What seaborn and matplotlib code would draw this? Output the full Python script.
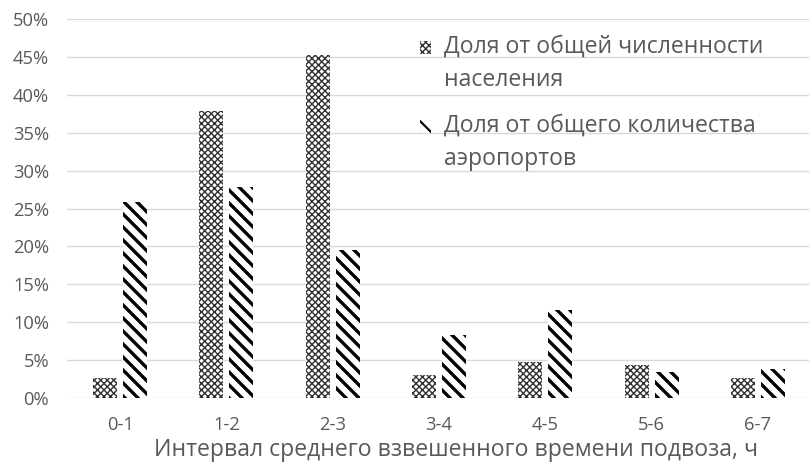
import numpy as np
import pandas as pd
import seaborn as sns
import matplotlib.pyplot as plt
from matplotlib.patches import Patch

# values, in %
intervals = ['0-1', '1-2', '2-3', '3-4', '4-5', '5-6', '6-7']
population_share = [2.6, 37.8, 45.3, 3.1, 4.8, 4.4, 2.7]
airports_share = [25.9, 27.8, 19.5, 8.3, 11.6, 3.4, 3.8]
series_names = ['Доля от общей численности\nнаселения',
                'Доля от общего количества\nаэропортов']
y_ticks = list(range(0, 51, 5))
x_title = 'Интервал среднего взвешенного времени подвоза, ч'

df = pd.DataFrame({
    'interval': intervals * 2,
    'share': population_share + airports_share,
    'series': [series_names[0]] * len(intervals) + [series_names[1]] * len(intervals),
})

sns.set_theme(style='white')
plt.rcParams['font.family'] = ['Open Sans', 'DejaVu Sans']
plt.rcParams['hatch.linewidth'] = 3.0

TXT = '#595959'
DPI = 78
W, H = 809, 470
fig = plt.figure(figsize=(W / DPI, H / DPI), dpi=DPI)
ax = fig.add_axes([67 / W, 1 - 398 / H, 744 / W, 379 / H])

sns.barplot(data=df, x='interval', y='share', hue='series', order=intervals,
            hue_order=series_names, palette=['white', 'white'], saturation=1,
            width=0.566, gap=0.2, legend=False, ax=ax)

hatches = ['xxxx', '\\\\']
hatch_colors = ['#333333', 'black']
hatch_widths = [1.3, 3.1]
for cont, h, c, lw in zip(ax.containers, hatches, hatch_colors, hatch_widths):
    for bar in cont:
        bar.set_hatch(h)
        bar.set_edgecolor(c)
        bar.set_linewidth(0)
        if hasattr(bar, 'set_hatch_linewidth'):
            bar.set_hatch_linewidth(lw)

ax.set_ylim(0, 50)
ax.set_yticks(y_ticks)
ax.set_yticklabels([f'{t}%' for t in y_ticks])
ax.yaxis.grid(True, color='#d9d9d9', linewidth=1.3)
ax.set_axisbelow(True)
sns.despine(ax=ax, left=True, bottom=True)
ax.tick_params(axis='both', length=0, labelsize=17, labelcolor=TXT)
ax.tick_params(axis='y', pad=16.5)
ax.tick_params(axis='x', pad=17)
ax.set_ylabel('')
ax.set_xlabel('')
fig.text(456 / W, 1 - 450 / H, x_title, ha='center', va='center',
         fontsize=21.2, color=TXT)

handles = []
for h, c in zip(hatches, hatch_colors):
    handles.append(Patch(facecolor='white', edgecolor=c, hatch=h, linewidth=0))
leg = fig.legend(handles, series_names, loc='upper left',
                 bbox_to_anchor=(420 / W, 1 - 35 / H), frameon=False,
                 fontsize=21.2, labelcolor=TXT, handlelength=0.5,
                 handleheight=0.5, handletextpad=0.55, labelspacing=0.95,
                 borderpad=0, borderaxespad=0)
for t in leg.get_texts():
    t.set_linespacing(1.5)
for p, lw in zip(leg.legend_handles, hatch_widths):
    p.set_y(p.get_y() + 15.5)
    if hasattr(p, 'set_hatch_linewidth'):
        p.set_hatch_linewidth(min(lw, 2))

fig.savefig('out.png', dpi=DPI, facecolor='white')
